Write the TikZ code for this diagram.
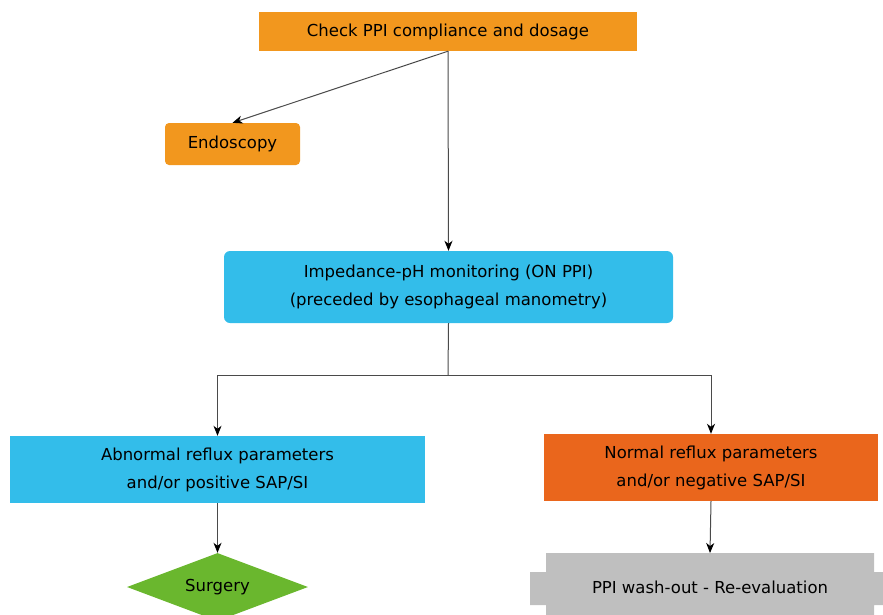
\documentclass[tikz,border=0pt]{standalone}
\usepackage{fontspec}
\setmainfont{DejaVu Sans}
\usetikzlibrary{shapes.geometric,arrows.meta}
\definecolor{boxorange}{HTML}{F2971E}
\definecolor{boxcyan}{HTML}{33BDEA}
\definecolor{boxred}{HTML}{EA661C}
\definecolor{boxgreen}{HTML}{6AB72E}
\definecolor{boxgray}{HTML}{BFBFBF}
\definecolor{linegray}{HTML}{4A4A4A}
\tikzset{
  box/.style={inner sep=0pt, align=center, font=\fontsize{16.5}{28}\selectfont},
  link/.style={draw=linegray, line width=1pt, -{Stealth[length=10pt,width=8pt,inset=3pt,black]}}
}
\begin{document}
\begin{tikzpicture}[x=1pt,y=-1pt]
\useasboundingbox (0,0) rectangle (883,614);
\clip (0,0) rectangle (883,614);
%\draw[step=50,gray,very thin] (0,0) grid (883,614);
\node[box, fill=boxorange, minimum width=378pt, minimum height=39pt] (check) at (448,31.5) {\raisebox{-1.5pt}{Check PPI compliance and dosage}};
\node[box, fill=boxorange, rounded corners=4pt, minimum width=135pt, minimum height=42pt] (endo) at (232.5,144) {\raisebox{-1.5pt}{Endoscopy}};
\node[box, fill=boxcyan, rounded corners=6pt, minimum width=449pt, minimum height=72pt] (imp) at (448.5,287) {Impedance-pH monitoring (ON PPI)\\(preceded by esophageal manometry)};
\node[box, fill=boxcyan, minimum width=415pt, minimum height=67pt] (abn) at (217.5,469.5) {Abnormal reflux parameters\\and/or positive SAP/SI};
\node[box, fill=boxred, minimum width=334pt, minimum height=67pt] (norm) at (711,467.5) {Normal reflux parameters\\and/or negative SAP/SI};
\node[box, fill=boxgreen, diamond, aspect=2.65, minimum width=181pt, minimum height=68pt] (surg) at (217.5,587) {Surgery};

%------------------------------------------------
\fill[boxgray] (546,553)--(874,553)--(874,572)--(890,572)--(890,605)--(874,605)--(874,623)
  --(546,623)--(546,605)--(530,605)--(530,572)--(546,572)--cycle;
\node[box] (wash) at (710,587) {PPI wash-out - Re-evaluation};
\coordinate (washtop) at (710,553);
\coordinate (fork) at (448,375);

\draw[link] (check.south) -- (endo.north);
\draw[link] (check.south) -- (imp.north);
\draw[linegray, line width=1pt] (imp.south) -- (fork);
\draw[link] (fork) -| (abn.north);
\draw[link] (fork) -| (norm.north);
\draw[link] (abn.south) -- (surg.north);
\draw[link] (norm.south) -- (washtop);
\end{tikzpicture}
\end{document}
